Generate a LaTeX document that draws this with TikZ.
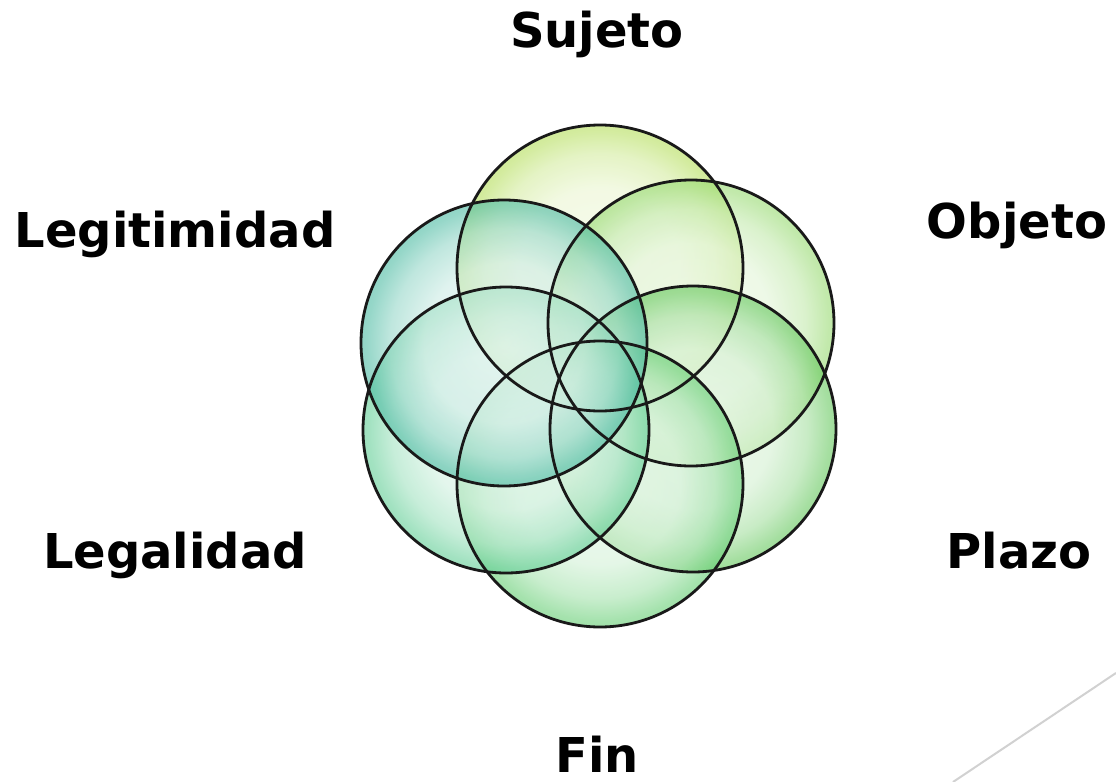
\documentclass[tikz,border=0pt]{standalone}
\usepackage{fontspec}
\setmainfont{DejaVu Sans}
\colorlet{bubcol}{green}
\pgfdeclareradialshading[bubcol]{bubble}{\pgfpoint{0bp}{0bp}}{%
  color(0bp)=(bubcol!16!white); color(14bp)=(bubcol!28!white);
  color(20bp)=(bubcol!58!white); color(24bp)=(bubcol!95!white);
  color(25bp)=(bubcol); color(50bp)=(bubcol)}
\tikzset{
  lbl/.style={font=\fontsize{24}{28}\selectfont\bfseries, anchor=base, inner sep=0pt},
  bubble/.style={shading=bubble, fill opacity=0.62},
  rim/.style={draw=black!90, line width=1.4pt}
}
\begin{document}
\begin{tikzpicture}[x=0.5pt,y=-0.5pt]
    \useasboundingbox (0,0) rectangle (1116,782);
    % circle centres, from the top one round the clock
    \coordinate (sujc) at (600,268);
    \coordinate (objc) at (691,323);
    \coordinate (plac) at (693,429);
    \coordinate (finc) at (600,484);
    \coordinate (legc) at (506,430);
    \coordinate (ltmc) at (504,343);
    \foreach \c/\col in {sujc/B5DE5C, objc/98DA72, plac/66C85E, finc/66CE74, legc/62CE96, ltmc/4DBBA3}{
        \definecolor{bubcol}{HTML}{\col}
        \shade[bubble] (\c) circle[radius=71.5pt];
    }
    % rims on top
    \foreach \c in {sujc,objc,plac,finc,legc,ltmc}
        \draw[rim] (\c) circle[radius=71.5pt];
    \node[lbl] (sujeto) at (597,47) {Sujeto};
    \node[lbl] (objeto) at (1017,238) {Objeto};
    \node[lbl] (plazo) at (1019,568) {Plazo};
    \node[lbl] (fin) at (597,772) {Fin};
    \node[lbl] (legalidad) at (175,568) {Legalidad};
    \node[lbl] (legitimidad) at (175,247) {Legitimidad};
    \draw[black!18, line width=1pt] (1116,673) -- (953,782);
\end{tikzpicture}
\end{document}
